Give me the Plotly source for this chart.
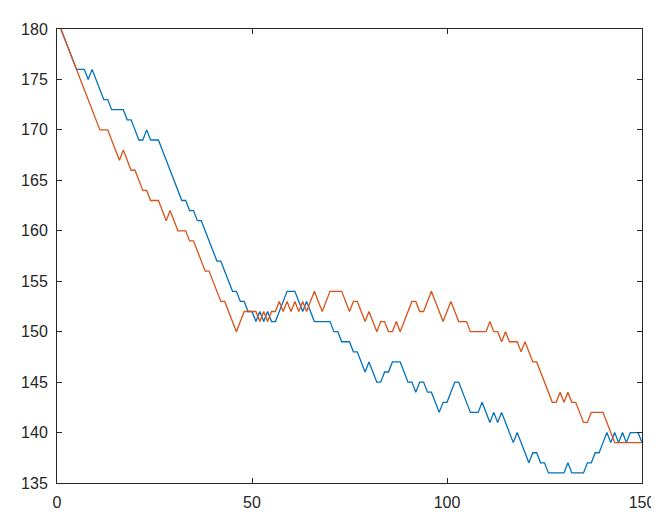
import plotly.graph_objects as go

x = list(range(1, 151))

series1 = [
    180, 179, 178, 177, 176, 176, 176, 175, 176, 175,
    174, 173, 173, 172, 172, 172, 172, 171, 171, 170,
    169, 169, 170, 169, 169, 169, 168, 167, 166, 165,
    164, 163, 163, 162, 162, 161, 161, 160, 159, 158,
    157, 157, 156, 155, 154, 154, 153, 153, 152, 152,
    151, 152, 151, 152, 151, 151, 152, 153, 154, 154,
    154, 153, 152, 153, 152, 151, 151, 151, 151, 151,
    150, 150, 149, 149, 149, 148, 148, 147, 146, 147,
    146, 145, 145, 146, 146, 147, 147, 147, 146, 145,
    145, 144, 145, 145, 144, 144, 143, 142, 143, 143,
    144, 145, 145, 144, 143, 142, 142, 142, 143, 142,
    141, 142, 141, 142, 141, 140, 139, 140, 139, 138,
    137, 138, 138, 137, 137, 136, 136, 136, 136, 136,
    137, 136, 136, 136, 136, 137, 137, 138, 138, 139,
    140, 139, 140, 139, 140, 139, 140, 140, 140, 139,
]

series2 = [
    180, 179, 178, 177, 176, 175, 174, 173, 172, 171,
    170, 170, 170, 169, 168, 167, 168, 167, 166, 166,
    165, 164, 164, 163, 163, 163, 162, 161, 162, 161,
    160, 160, 160, 159, 159, 158, 157, 156, 156, 155,
    154, 153, 153, 152, 151, 150, 151, 152, 152, 152,
    152, 151, 152, 151, 152, 152, 153, 152, 153, 152,
    153, 152, 153, 152, 153, 154, 153, 152, 153, 154,
    154, 154, 154, 153, 152, 153, 153, 152, 151, 152,
    151, 150, 151, 151, 150, 150, 151, 150, 151, 152,
    153, 153, 152, 152, 153, 154, 153, 152, 151, 152,
    153, 152, 151, 151, 151, 150, 150, 150, 150, 150,
    151, 150, 150, 149, 150, 149, 149, 149, 148, 149,
    148, 147, 147, 146, 145, 144, 143, 143, 144, 143,
    144, 143, 143, 142, 141, 141, 142, 142, 142, 142,
    141, 140, 139, 139, 139, 139, 139, 139, 139, 139,
]

x_ticks = [0, 50, 100, 150]
y_ticks = [135, 140, 145, 150, 155, 160, 165, 170, 175, 180]

fig = go.Figure()
fig.add_trace(go.Scatter(x=x, y=series1, mode="lines",
                         line=dict(color="#0072BD", width=1.3)))
fig.add_trace(go.Scatter(x=x, y=series2, mode="lines",
                         line=dict(color="#D95319", width=1.3)))

axis_common = dict(
    showgrid=False, zeroline=False, showline=True, mirror="ticks",
    linecolor="#262626", linewidth=1, ticks="inside", ticklen=5,
    tickcolor="#262626", tickwidth=1,
    tickfont=dict(family="Liberation Sans, Arial, sans-serif", size=16, color="#262626"),
)

fig.update_xaxes(range=[0, 150], tickvals=x_ticks, ticklabelstandoff=5, **axis_common)
fig.update_yaxes(range=[135, 180], tickvals=y_ticks, ticklabelstandoff=5, **axis_common)

fig.update_layout(
    width=659, height=515,
    margin=dict(l=49, r=19, t=21, b=26, pad=0),
    paper_bgcolor="white", plot_bgcolor="white",
    showlegend=False,
)

fig.write_html("out.html")
